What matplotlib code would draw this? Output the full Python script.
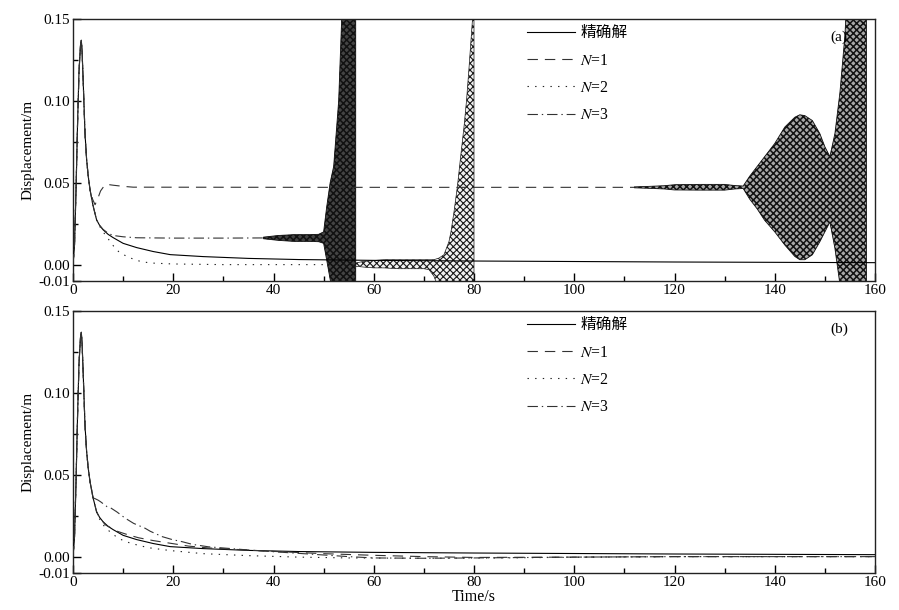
import matplotlib
matplotlib.use('Agg')
import matplotlib.pyplot as plt
from matplotlib.ticker import FixedLocator, FixedFormatter, MultipleLocator

plt.rcParams['font.family'] = ['Liberation Serif', 'Noto Sans CJK SC']
plt.rcParams['mathtext.fontset'] = 'stix'
plt.rcParams['lines.scale_dashes'] = False
plt.rcParams['hatch.linewidth'] = 0.6

# ---------------- data ----------------
labels = ['精确解', r'$N$=1', r'$N$=2', r'$N$=3']
panel_tags = ['(a)', '(b)']
x_ticks = [0, 20, 40, 60, 80, 100, 120, 140, 160]
y_ticks = [-0.01, 0.00, 0.05, 0.10, 0.15]
y_tick_labels = ['-0.01', '0.00', '0.05', '0.10', '0.15']

# exact solution (same in both panels)
t_exact = [0, 0.3, 0.6, 0.9, 1.2, 1.5, 1.65, 1.8, 2.0, 2.2, 2.4, 2.7, 3.0, 3.4, 4.0, 4.7,
           5.3, 6.0, 7.0, 8.0, 10, 12.7, 16, 19.4, 26, 35, 45, 60, 80, 100, 120, 140, 160]
u_exact = [0, 0.012, 0.045, 0.085, 0.118, 0.134, 0.137, 0.131, 0.115, 0.097, 0.080, 0.065,
           0.055, 0.0457, 0.036, 0.0274, 0.024, 0.0213, 0.0185, 0.0165, 0.013, 0.0104, 0.008,
           0.0061, 0.0049, 0.0038, 0.0031, 0.0026, 0.0022, 0.0019, 0.0016, 0.0014, 0.0012]

# ---- panel (a): smooth parts ----
t_a_n1 = [0, 0.3, 0.6, 0.9, 1.2, 1.5, 1.65, 1.8, 2.0, 2.2, 2.4, 2.7, 3.0, 3.4, 3.9, 4.4,
          4.9, 5.5, 6.2, 6.8, 8, 10, 12, 50, 100, 112]
u_a_n1 = [0, 0.012, 0.045, 0.085, 0.118, 0.134, 0.137, 0.131, 0.115, 0.097, 0.080, 0.065,
          0.055, 0.0457, 0.040, 0.0366, 0.040, 0.045, 0.048, 0.049, 0.0485, 0.0478, 0.0473,
          0.0472, 0.0472, 0.0472]
t_a_n2 = [0, 0.3, 0.6, 0.9, 1.2, 1.5, 1.65, 1.8, 2.0, 2.2, 2.4, 2.7, 3.0, 3.4, 4.0, 4.7,
          5.0, 5.6, 6.4, 7.4, 8.4, 9.4, 11.4, 13.4, 15.4, 20, 30, 50, 56]
u_a_n2 = [0, 0.012, 0.045, 0.085, 0.118, 0.134, 0.137, 0.131, 0.115, 0.097, 0.080, 0.065,
          0.055, 0.0457, 0.036, 0.0274, 0.025, 0.022, 0.0183, 0.0142, 0.010, 0.0071, 0.0041,
          0.002, 0.001, 0.0004, 0.0, 0.0, 0.0]
t_a_n3 = [0, 0.3, 0.6, 0.9, 1.2, 1.5, 1.65, 1.8, 2.0, 2.2, 2.4, 2.7, 3.0, 3.4, 4.0, 4.7,
          5.3, 6.0, 7.0, 8.0, 10, 12.7, 20, 30, 38]
u_a_n3 = [0, 0.012, 0.045, 0.085, 0.118, 0.134, 0.137, 0.131, 0.115, 0.097, 0.080, 0.065,
          0.055, 0.0457, 0.036, 0.0274, 0.024, 0.0215, 0.0192, 0.0178, 0.017, 0.0164,
          0.0162, 0.0162, 0.0163]

# ---- panel (a): oscillation envelopes (upper / lower) ----
t_a_n1_osc = [112, 115, 118, 120, 125, 130, 132, 133.7, 135, 136.5, 138, 140, 142, 144,
              145, 146, 147.5, 149, 150, 151, 152, 153, 154, 155, 158.3]
hi_a_n1_osc = [0.0475, 0.0478, 0.0482, 0.0488, 0.049, 0.049, 0.0483, 0.048, 0.054, 0.060,
               0.066, 0.074, 0.084, 0.090, 0.0915, 0.091, 0.088, 0.080, 0.072, 0.066, 0.080,
               0.105, 0.14, 0.2, 0.2]
lo_a_n1_osc = [0.0469, 0.0466, 0.0462, 0.0456, 0.0455, 0.0455, 0.0462, 0.0465, 0.040,
               0.034, 0.027, 0.020, 0.012, 0.005, 0.003, 0.003, 0.006, 0.014, 0.020, 0.026,
               0.010, -0.012, -0.03, -0.03, -0.03]

t_a_n2_osc = [56.4, 58, 60, 62, 65, 68, 70, 71, 72, 72.5, 73, 74, 75, 75.4, 76, 76.7, 77.3,
              78, 78.5, 79, 79.7, 80.0]
hi_a_n2_osc = [0.001, 0.002, 0.0025, 0.003, 0.003, 0.003, 0.003, 0.003, 0.003, 0.0035,
               0.004, 0.006, 0.014, 0.02, 0.032, 0.048, 0.065, 0.084, 0.10, 0.12, 0.15, 0.2]
lo_a_n2_osc = [-0.001, -0.0015, -0.002, -0.002, -0.0025, -0.0025, -0.0025, -0.003, -0.007,
               -0.011, -0.02, -0.02, -0.02, -0.02, -0.02, -0.02, -0.02, -0.02, -0.02, -0.02,
               -0.02, -0.02]

t_a_n3_osc = [38, 41, 44, 47, 49, 50, 50.6, 51.3, 52, 53, 53.6, 55, 56.4]
hi_a_n3_osc = [0.0168, 0.0178, 0.0183, 0.0183, 0.0185, 0.020, 0.035, 0.050, 0.060, 0.10,
               0.15, 0.2, 0.2]
lo_a_n3_osc = [0.0158, 0.0148, 0.0142, 0.0142, 0.014, 0.013, 0.003, -0.009, -0.02, -0.02,
               -0.02, -0.02, -0.02]

# ---- panel (b): all converge ----
t_b_n1 = [0, 0.3, 0.6, 0.9, 1.2, 1.5, 1.65, 1.8, 2.0, 2.2, 2.4, 2.7, 3.0, 3.4, 4.0, 4.7,
          5.0, 6.4, 8.8, 11.1, 13.1, 16, 20.4, 23.1, 27, 35, 40, 50, 60, 70, 80, 100, 120, 160]
u_b_n1 = [0, 0.012, 0.045, 0.085, 0.118, 0.134, 0.137, 0.131, 0.115, 0.097, 0.080, 0.065,
          0.055, 0.0457, 0.036, 0.0274, 0.0255, 0.0195, 0.0155, 0.0132, 0.0115, 0.0098,
          0.0077, 0.0064, 0.0053, 0.004, 0.0032, 0.0018, 0.0008, 0.0, -0.0005, -0.0003,
          0.0, 0.0]
t_b_n2 = [0, 0.3, 0.6, 0.9, 1.2, 1.5, 1.65, 1.8, 2.0, 2.2, 2.4, 2.7, 3.0, 3.4, 4.0, 4.7,
          5.0, 5.6, 6.4, 7.5, 8.7, 10, 11.4, 13.4, 15.4, 19.4, 26, 35, 45, 55, 70, 85, 100,
          120, 160]
u_b_n2 = [0, 0.012, 0.045, 0.085, 0.118, 0.134, 0.137, 0.131, 0.115, 0.097, 0.080, 0.065,
          0.055, 0.0457, 0.036, 0.0274, 0.025, 0.021, 0.018, 0.0148, 0.012, 0.0098, 0.0083,
          0.0066, 0.0053, 0.0037, 0.0018, 0.0006, -0.0003, -0.0008, -0.001, -0.0008,
          -0.0004, 0.0, 0.0]
t_b_n3 = [0, 0.3, 0.6, 0.9, 1.2, 1.5, 1.65, 1.8, 2.0, 2.2, 2.4, 2.7, 3.0, 3.4, 4.0, 5.0,
          5.5, 6.8, 7.5, 8.8, 10.4, 12.1, 14.4, 15.4, 17.8, 19.8, 21.8, 23.8, 27, 32, 36,
          40, 45, 50, 55, 60, 70, 80, 100, 120, 160]
u_b_n3 = [0, 0.012, 0.045, 0.085, 0.118, 0.134, 0.137, 0.131, 0.115, 0.097, 0.080, 0.065,
          0.055, 0.0457, 0.036, 0.0345, 0.0335, 0.0305, 0.0298, 0.0272, 0.0235, 0.0203,
          0.0173, 0.0155, 0.0122, 0.0104, 0.0091, 0.0075, 0.006, 0.0048, 0.0038, 0.003,
          0.002, 0.001, 0.0, -0.0008, -0.001, -0.0008, -0.0003, 0.0, 0.0]

# ---------------- styles ----------------
FS = 11
LW = 0.8
sty_exact = dict(color='black', lw=LW, linestyle='-')
sty_n1 = dict(color='#333333', lw=LW, linestyle=(0, (7.5, 5.0)))
sty_n2 = dict(color='#222222', lw=LW, linestyle=(0, (1.0, 4.5)))
sty_n3 = dict(color='#333333', lw=LW, linestyle=(0, (7.5, 2.8, 1.0, 2.8)))

fig = plt.figure(figsize=(8.99, 6.10), dpi=100)
W, H = 899.0, 610.0
ax_a = fig.add_axes([73 / W, 1 - 281 / H, 802 / W, 262 / H])
ax_b = fig.add_axes([73 / W, 1 - 573 / H, 802 / W, 262 / H])


def style_axes(ax):
    ax.set_xlim(0, 160)
    ax.set_ylim(-0.01, 0.15)
    ax.xaxis.set_major_locator(FixedLocator(x_ticks))
    ax.xaxis.set_minor_locator(MultipleLocator(10))
    ax.yaxis.set_major_locator(FixedLocator(y_ticks))
    ax.yaxis.set_major_formatter(FixedFormatter(y_tick_labels))
    ax.yaxis.set_minor_locator(FixedLocator([0.025, 0.075, 0.125]))
    ax.tick_params(which='major', direction='in', length=6, width=1.0, labelsize=FS,
                   top=False, right=False, pad=2)
    ax.tick_params(which='minor', direction='in', length=3.5, width=1.0,
                   top=False, right=False)
    for s in ax.spines.values():
        s.set_linewidth(1.0)
        s.set_color('#222222')
    ax.set_ylabel('Displacement/m', fontsize=FS, labelpad=3)


for ax in (ax_a, ax_b):
    style_axes(ax)

# panel (a) oscillating regions
plt.rcParams['hatch.linewidth'] = 1.1
ax_a.fill_between(t_a_n1_osc, lo_a_n1_osc, hi_a_n1_osc, facecolor='#a8a8a8',
                  edgecolor='#111111', hatch='xxxxx', linewidth=0.6, zorder=2)
plt.rcParams['hatch.linewidth'] = 0.8
ax_a.fill_between(t_a_n2_osc, lo_a_n2_osc, hi_a_n2_osc, facecolor='#f2f2f2',
                  edgecolor='#1a1a1a', hatch='xxxxx', linewidth=0.5, zorder=2)
plt.rcParams['hatch.linewidth'] = 1.1
ax_a.fill_between(t_a_n3_osc, lo_a_n3_osc, hi_a_n3_osc, facecolor='#444444',
                  edgecolor='#111111', hatch='xxxxx', linewidth=0.6, zorder=2)

la = [ax_a.plot(t_exact, u_exact, zorder=3, **sty_exact)[0],
      ax_a.plot(t_a_n1, u_a_n1, zorder=3, **sty_n1)[0],
      ax_a.plot(t_a_n2, u_a_n2, zorder=3, **sty_n2)[0],
      ax_a.plot(t_a_n3, u_a_n3, zorder=3, **sty_n3)[0]]

# panel (b)
lb = [ax_b.plot(t_exact, u_exact, zorder=3, **sty_exact)[0],
      ax_b.plot(t_b_n1, u_b_n1, zorder=3, **sty_n1)[0],
      ax_b.plot(t_b_n2, u_b_n2, zorder=3, **sty_n2)[0],
      ax_b.plot(t_b_n3, u_b_n3, zorder=3, **sty_n3)[0]]

for ax, lines, tag in ((ax_a, la, panel_tags[0]), (ax_b, lb, panel_tags[1])):
    ax.legend(lines, labels, loc='upper left', bbox_to_anchor=(0.558, 1.0),
              frameon=False, fontsize=11.3, handlelength=3.1, handletextpad=0.3,
              labelspacing=0.72, borderaxespad=0.2, borderpad=0.2)
    ax.text(0.955, 0.93, tag, transform=ax.transAxes, fontsize=FS,
            ha='center', va='center')

ax_b.set_xlabel('Time/s', fontsize=11.5, labelpad=0)

fig.savefig('out.png', dpi=100)
